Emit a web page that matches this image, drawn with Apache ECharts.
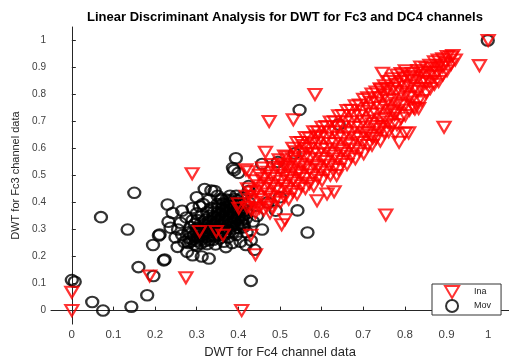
<!DOCTYPE html>
<html>
<head>
<meta charset="utf-8">
<script src="https://cdn.jsdelivr.net/npm/echarts@6/dist/echarts.min.js"></script>
<style>
  html, body { margin: 0; padding: 0; background: #fff; }
  #chart { width: 509px; height: 364px; }
</style>
</head>
<body>
<div id="chart"></div>
<script>
// Tick positions shared by both axes
const tickValues = [0, 0.1, 0.2, 0.3, 0.4, 0.5, 0.6, 0.7, 0.8, 0.9, 1];

// "Mov" class: dense core of the cluster
const movCore = [
  [0.290,0.262],[0.301,0.258],[0.311,0.263],[0.320,0.257],[0.331,0.261],
  [0.292,0.276],[0.302,0.273],[0.313,0.278],[0.322,0.272],[0.333,0.277],[0.342,0.274],[0.351,0.279],
  [0.299,0.291],[0.309,0.288],[0.318,0.293],[0.328,0.289],[0.339,0.292],[0.348,0.287],[0.358,0.291],[0.368,0.288],[0.379,0.292],
  [0.301,0.306],[0.311,0.303],[0.321,0.308],[0.330,0.304],[0.341,0.307],[0.350,0.302],[0.360,0.306],[0.371,0.303],[0.381,0.308],[0.390,0.304],[0.401,0.306],
  [0.309,0.321],[0.319,0.318],[0.329,0.323],[0.339,0.319],[0.349,0.322],[0.358,0.317],[0.368,0.321],[0.379,0.318],[0.389,0.323],[0.398,0.319],[0.409,0.322],
  [0.321,0.336],[0.331,0.333],[0.341,0.338],[0.350,0.334],[0.361,0.337],[0.370,0.332],[0.380,0.336],[0.391,0.333],[0.400,0.338],[0.410,0.334],
  [0.331,0.351],[0.342,0.348],[0.352,0.353],[0.361,0.349],[0.371,0.352],[0.382,0.347],[0.391,0.351],[0.401,0.348],[0.411,0.352],
  [0.341,0.366],[0.351,0.363],[0.362,0.368],[0.372,0.364],[0.381,0.367],[0.392,0.362],[0.402,0.366],[0.410,0.363],
  [0.352,0.381],[0.361,0.378],[0.371,0.383],[0.382,0.379],[0.391,0.382],[0.400,0.377],[0.409,0.381],
  [0.362,0.396],[0.372,0.393],[0.381,0.398],[0.391,0.394],[0.400,0.397],
  [0.371,0.411],[0.380,0.408],[0.390,0.413],[0.399,0.409],
  [0.280,0.250],[0.282,0.268],[0.285,0.285],[0.295,0.245],[0.310,0.248],[0.325,0.246],
  [0.340,0.262],[0.355,0.268],[0.365,0.280],[0.388,0.292],[0.412,0.308],[0.418,0.340],
  [0.420,0.372],[0.415,0.395],[0.410,0.420],[0.395,0.425],[0.380,0.425],[0.360,0.410],
  [0.350,0.395],[0.335,0.380],[0.325,0.365],[0.312,0.350],[0.302,0.335],[0.295,0.320]
];

// "Mov" class: scattered samples
const movScatter = [
  [0.000,0.113],[0.007,0.107],[0.049,0.032],[0.075,0.000],[0.143,0.014],[0.181,0.057],
  [0.196,0.128],[0.160,0.161],[0.221,0.186],[0.195,0.243],[0.209,0.278],[0.134,0.300],
  [0.070,0.346],[0.150,0.436],[0.230,0.393],[0.232,0.329],[0.242,0.361],[0.261,0.325],
  [0.237,0.307],[0.249,0.271],[0.270,0.254],[0.277,0.218],[0.254,0.236],[0.312,0.200],
  [0.329,0.193],[0.223,0.189],[0.211,0.282],[0.307,0.386],[0.319,0.450],[0.343,0.443],
  [0.359,0.414],[0.425,0.461],[0.390,0.520],[0.394,0.564],[0.400,0.510],[0.387,0.528],
  [0.457,0.543],[0.495,0.550],[0.535,0.582],[0.425,0.443],[0.413,0.318],[0.418,0.243],
  [0.439,0.225],[0.457,0.300],[0.430,0.110],[0.547,0.743],[0.641,0.689],[0.566,0.289],
  [0.542,0.371],[0.470,0.400],[0.500,0.420],[0.490,0.370],[0.999,1.000],
  [0.280,0.290],[0.285,0.310],[0.290,0.335],[0.300,0.360],[0.315,0.395],[0.330,0.410],
  [0.350,0.425],[0.420,0.360],[0.425,0.400],[0.420,0.290],[0.345,0.245],[0.300,0.240],
  [0.285,0.255],[0.365,0.255],[0.375,0.270],[0.395,0.280],
  [0.255,0.300],[0.265,0.280],[0.275,0.345],[0.265,0.370],[0.290,0.380],[0.300,0.420],
  [0.335,0.445],[0.435,0.330],[0.445,0.350],[0.430,0.260],[0.405,0.255],[0.385,0.250],
  [0.370,0.235],[0.290,0.205]
];

// "Ina" class: main diagonal band
const inaBand = [
  [0.421,0.382],[0.419,0.423],[0.422,0.451],
  [0.441,0.362],[0.439,0.401],[0.442,0.443],[0.440,0.481],
  [0.461,0.372],[0.459,0.411],[0.462,0.452],[0.460,0.489],[0.458,0.528],
  [0.481,0.383],[0.479,0.421],[0.482,0.462],[0.480,0.498],[0.478,0.541],
  [0.501,0.401],[0.499,0.442],[0.502,0.479],[0.500,0.522],[0.498,0.558],
  [0.521,0.412],[0.519,0.451],[0.522,0.492],[0.520,0.531],[0.518,0.569],
  [0.541,0.431],[0.539,0.472],[0.542,0.509],[0.540,0.552],[0.538,0.588],[0.541,0.622],
  [0.561,0.452],[0.559,0.489],[0.562,0.532],[0.560,0.568],[0.558,0.611],[0.561,0.641],
  [0.581,0.461],[0.579,0.502],[0.582,0.538],[0.580,0.582],[0.578,0.619],[0.581,0.662],
  [0.601,0.482],[0.599,0.521],[0.602,0.562],[0.600,0.598],[0.598,0.642],[0.601,0.679],
  [0.621,0.501],[0.619,0.538],[0.622,0.582],[0.620,0.619],[0.618,0.661],[0.621,0.698],
  [0.641,0.522],[0.639,0.561],[0.642,0.598],[0.640,0.642],[0.638,0.679],[0.641,0.721],
  [0.661,0.541],[0.659,0.582],[0.662,0.619],[0.660,0.661],[0.658,0.698],[0.661,0.741],
  [0.681,0.562],[0.679,0.598],[0.682,0.642],[0.680,0.679],[0.678,0.722],[0.681,0.758],
  [0.701,0.581],[0.699,0.622],[0.702,0.658],[0.700,0.701],[0.698,0.738],[0.701,0.782],
  [0.721,0.612],[0.719,0.648],[0.722,0.692],[0.720,0.728],[0.718,0.771],[0.721,0.802],
  [0.741,0.628],[0.739,0.672],[0.742,0.708],[0.740,0.752],[0.738,0.788],[0.741,0.821],
  [0.761,0.662],[0.759,0.698],[0.762,0.742],[0.760,0.778],[0.758,0.822],[0.761,0.848],
  [0.781,0.688],[0.779,0.732],[0.782,0.768],[0.780,0.812],[0.778,0.838],[0.781,0.872],
  [0.801,0.722],[0.799,0.758],[0.802,0.802],[0.800,0.828],[0.798,0.862],[0.801,0.888],
  [0.821,0.752],[0.819,0.788],[0.822,0.822],[0.820,0.852],[0.818,0.878],
  [0.841,0.778],[0.839,0.822],[0.842,0.848],[0.840,0.882],[0.838,0.902],
  [0.861,0.822],[0.859,0.848],[0.862,0.882],[0.860,0.908],
  [0.881,0.848],[0.879,0.882],[0.882,0.908],[0.880,0.928],
  [0.901,0.888],[0.899,0.918],[0.902,0.941],
  [0.921,0.928]
];

// "Ina" class: samples lying between the band columns
const inaBandFill = [
  [0.431,0.372],[0.431,0.412],[0.431,0.438],
  [0.451,0.381],[0.451,0.421],[0.451,0.462],[0.451,0.501],
  [0.471,0.391],[0.471,0.432],[0.471,0.471],[0.471,0.512],
  [0.491,0.412],[0.491,0.451],[0.491,0.489],[0.491,0.531],
  [0.511,0.421],[0.511,0.462],[0.511,0.501],[0.511,0.541],[0.511,0.572],
  [0.531,0.441],[0.531,0.482],[0.531,0.521],[0.531,0.562],[0.531,0.601],
  [0.551,0.462],[0.551,0.501],[0.551,0.541],[0.551,0.582],[0.551,0.622],
  [0.571,0.471],[0.571,0.521],[0.571,0.561],[0.571,0.599],[0.571,0.638],
  [0.591,0.492],[0.591,0.532],[0.591,0.579],[0.591,0.621],[0.591,0.661],
  [0.611,0.512],[0.611,0.552],[0.611,0.598],[0.611,0.638],[0.611,0.682],
  [0.631,0.531],[0.631,0.572],[0.631,0.618],[0.631,0.661],[0.631,0.699],
  [0.651,0.552],[0.651,0.592],[0.651,0.638],[0.651,0.681],[0.651,0.722],
  [0.671,0.571],[0.671,0.612],[0.671,0.658],[0.671,0.699],[0.671,0.742],
  [0.691,0.592],[0.691,0.638],[0.691,0.679],[0.691,0.721],[0.691,0.761],
  [0.711,0.611],[0.711,0.658],[0.711,0.702],[0.711,0.748],[0.711,0.788],
  [0.731,0.638],[0.731,0.682],[0.731,0.728],[0.731,0.768],[0.731,0.809],
  [0.751,0.658],[0.751,0.712],[0.751,0.758],[0.751,0.798],[0.751,0.832],
  [0.771,0.688],[0.771,0.738],[0.771,0.782],[0.771,0.822],[0.771,0.858],
  [0.791,0.712],[0.791,0.762],[0.791,0.808],[0.791,0.848],[0.791,0.878],
  [0.811,0.742],[0.811,0.792],[0.811,0.832],[0.811,0.868],
  [0.831,0.772],[0.831,0.812],[0.831,0.862],[0.831,0.889],
  [0.851,0.808],[0.851,0.842],[0.851,0.872],[0.851,0.898],
  [0.871,0.838],[0.871,0.868],[0.871,0.898],[0.871,0.921],
  [0.891,0.872],[0.891,0.902],[0.891,0.932],
  [0.911,0.912],[0.911,0.938]
];

// "Ina" class: samples away from the band
const inaScatter = [
  [0.000,0.068],[0.000,0.000],[0.408,0.000],[0.187,0.128],[0.274,0.122],[0.289,0.507],
  [0.441,0.207],[0.430,0.279],[0.504,0.318],[0.474,0.700],[0.532,0.707],[0.465,0.586],
  [0.425,0.514],[0.418,0.521],[0.584,0.800],[0.754,0.354],[0.746,0.879],[0.742,0.818],
  [0.894,0.679],[0.915,0.944],[0.979,0.907],[1.000,1.000],[0.833,0.748],[0.809,0.658],
  [0.786,0.623],[0.824,0.746],[0.775,0.725],[0.800,0.657],[0.777,0.657],[0.746,0.682],
  [0.723,0.639],[0.307,0.293],[0.347,0.293],[0.363,0.279],[0.400,0.396],[0.401,0.379],
  [0.441,0.379],[0.476,0.361],[0.512,0.336],[0.589,0.407],[0.613,0.432],[0.630,0.440],
  [0.636,0.500],[0.547,0.514],[0.512,0.532],[0.563,0.600],[0.589,0.646]
];

const FONT = 'Liberation Sans, Arial, sans-serif';
const axisColor = '#262626';
const triangleDown = 'path://M0,0L20,0L10,17Z';

const chart = echarts.init(document.getElementById('chart'), null, { renderer: 'canvas' });

function axisBase(name) {
  return {
    type: 'value',
    min: -0.05,
    max: 1.05,
    name: name,
    nameLocation: 'middle',
    nameTextStyle: { fontFamily: FONT, color: axisColor },
    axisLine: { show: true, lineStyle: { color: axisColor, width: 1 } },
    axisTick: { show: true, inside: true, length: 4, customValues: tickValues, lineStyle: { color: axisColor } },
    axisLabel: {
      customValues: tickValues,
      fontFamily: FONT, color: '#404040',
      formatter: v => String(+v.toFixed(1))
    },
    splitLine: { show: false }
  };
}

const xAxis = axisBase('DWT for Fc4 channel data');
xAxis.nameGap = 19;
xAxis.nameTextStyle.fontSize = 13;
xAxis.axisLabel.fontSize = 11.5;
xAxis.axisLabel.margin = 5;

const yAxis = axisBase('DWT for Fc3 channel data');
yAxis.nameGap = 28;
yAxis.nameTextStyle.fontSize = 11;
yAxis.axisLabel.fontSize = 10;
yAxis.axisLabel.margin = 5;

chart.setOption({
  animation: false,
  backgroundColor: '#fff',
  graphic: [{
    type: 'text',
    x: 285, y: 17,
    style: {
      text: 'Linear Discriminant Analysis for DWT for Fc3 and DC4 channels',
      font: 'bold 13px ' + FONT,
      fill: '#000',
      textAlign: 'center',
      textVerticalAlign: 'middle'
    }
  }],
  grid: { left: 51, right: -10, top: 27, bottom: 30 },
  xAxis: xAxis,
  yAxis: yAxis,
  legend: {
    data: ['Ina', 'Mov'],
    orient: 'vertical',
    left: 432, top: 284,
    padding: [1, 10, 2, 12],
    itemGap: 0,
    itemWidth: 22,
    itemHeight: 12,
    backgroundColor: '#fff',
    borderColor: '#333',
    borderWidth: 1,
    borderRadius: 0,
    textStyle: { fontFamily: FONT, fontSize: 9, color: '#222', padding: [0, 0, 0, 6] }
  },
  series: [
    {
      name: 'Mov',
      type: 'scatter',
      symbol: 'circle',
      symbolSize: [12, 10.5],
      itemStyle: { color: 'rgba(0,0,0,0)', borderColor: '#000', borderWidth: 2.2 },
      data: movCore.concat(movScatter)
    },
    {
      name: 'Ina',
      type: 'scatter',
      symbol: triangleDown,
      symbolSize: [13, 11],
      itemStyle: { color: 'rgba(0,0,0,0)', borderColor: '#ff0000', borderWidth: 2.2 },
      data: inaBand.concat(inaBandFill, inaScatter)
    }
  ]
});
</script>
</body>
</html>
